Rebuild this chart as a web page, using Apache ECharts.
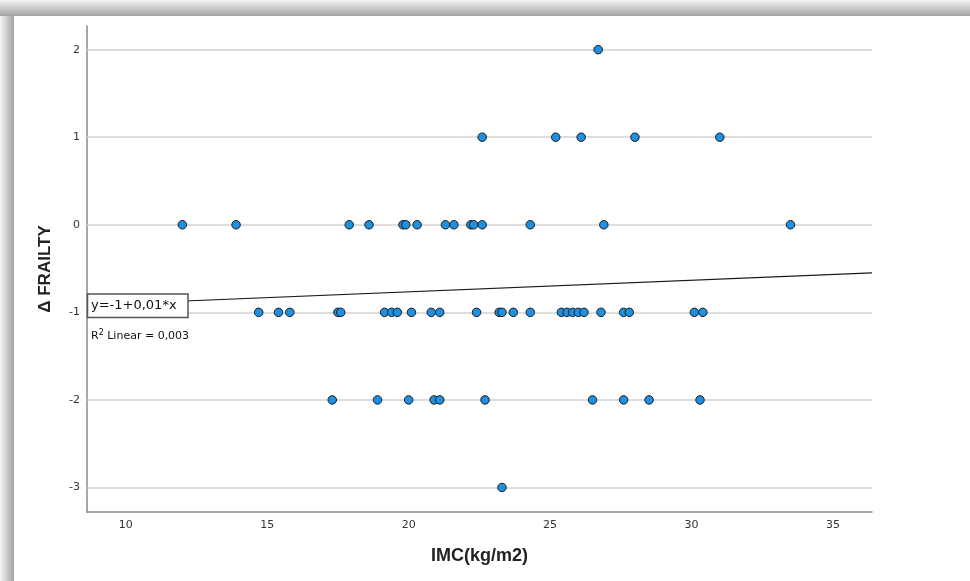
<!DOCTYPE html>
<html>
<head>
<meta charset="utf-8">
<script src="https://cdn.jsdelivr.net/npm/echarts@6/dist/echarts.min.js"></script>
<style>
html,body{margin:0;padding:0;background:#fff;}
#chart{width:970px;height:581px;}
</style>
</head>
<body>
<div id="chart"></div>
<script>
// ---- data ----
const xTickLabels = [10, 15, 20, 25, 30, 35];
const yTickLabels = [-3, -2, -1, 0, 1, 2];
const xRange = [8.63, 36.38];
const yRange = [-3.28, 2.27];

// IMC values for each Δ FRAILTY level
const imcAtPlus2 = [26.7];
const imcAtPlus1 = [22.6, 25.2, 26.1, 28.0, 31.0];
const imcAtZero = [12.0, 13.9, 17.9, 18.6, 19.8, 19.9, 20.3, 21.3, 21.6, 22.2, 22.3, 22.6, 24.3, 26.9, 33.5];
const imcAtMinus1 = [14.7, 15.4, 15.8, 17.5, 17.6, 19.15, 19.4, 19.6, 20.1, 20.8, 21.1, 22.4, 23.2, 23.3, 23.7, 24.3, 25.4, 25.6, 25.8, 26.0, 26.2, 26.8, 27.6, 27.8, 30.1, 30.4];
const imcAtMinus2 = [17.3, 18.9, 20.0, 20.9, 21.1, 22.7, 26.5, 27.6, 28.5, 30.3];
const imcAtMinus3 = [23.3];
const frailtyLevels = [2, 1, 0, -1, -2, -3];

// fit line as drawn
const fitIntercept = -1.03;
const fitSlope = 0.0132;
const fitLabel = 'y=-1+0,01*x';
const r2Label = '0,003';

const rows = [imcAtPlus2, imcAtPlus1, imcAtZero, imcAtMinus1, imcAtMinus2, imcAtMinus3];
const points = [];
rows.forEach((arr, i) => arr.forEach(x => points.push([x, frailtyLevels[i]])));

const fitLine = xRange.map(x => [x, fitIntercept + fitSlope * x]);

const chart = echarts.init(document.getElementById('chart'), null, {renderer: 'canvas'});
const tickFont = {fontFamily: 'DejaVu Sans', fontSize: 11, color: '#333'};

chart.setOption({
  animation: false,
  backgroundColor: '#ffffff',
  grid: {left: 87, top: 26, width: 785, height: 486, containLabel: false},
  xAxis: {
    type: 'value', min: xRange[0], max: xRange[1],
    name: 'IMC(kg/m2)', nameLocation: 'middle', nameGap: 35,
    nameTextStyle: {fontFamily: 'Liberation Sans', fontWeight: 'bold', fontSize: 18, color: '#222'},
    axisLine: {show: true, onZero: false, lineStyle: {color: '#8a8a8a', width: 1.5}},
    axisTick: {show: false, customValues: xTickLabels},
    axisLabel: Object.assign({customValues: xTickLabels, margin: 8}, tickFont),
    splitLine: {show: false}
  },
  yAxis: {
    type: 'value', min: yRange[0], max: yRange[1],
    name: 'Δ FRAILTY', nameLocation: 'middle', nameGap: 33, nameRotate: 90,
    nameTextStyle: {fontFamily: 'Liberation Sans', fontWeight: 'bold', fontSize: 17, color: '#222'},
    axisLine: {show: true, onZero: false, lineStyle: {color: '#8a8a8a', width: 1.5}},
    axisTick: {show: false, customValues: yTickLabels},
    axisLabel: Object.assign({customValues: yTickLabels, margin: 7,
      formatter: v => String(Math.round(v))}, tickFont),
    splitLine: {show: false}
  },
  series: [
    {
      type: 'line', data: [], z: 1, silent: true,
      markLine: {
        silent: true, symbol: 'none', animation: false, z: 1,
        label: {show: false},
        lineStyle: {type: 'solid', color: '#d2d2d2', width: 1.5},
        data: yTickLabels.map(v => ({yAxis: v}))
      }
    },
    {
      type: 'line', data: fitLine, z: 6, silent: true, symbol: 'none',
      lineStyle: {color: '#1a1a1a', width: 1.2}
    },
    {
      type: 'scatter', data: points, z: 10, symbol: 'circle', symbolSize: 8.5,
      itemStyle: {color: '#1f8fe0', borderColor: '#1b1b1b', borderWidth: 1, opacity: 1}
    }
  ],
  graphic: [
    {type: 'rect', z: 100, shape: {x: 0, y: 0, width: 970, height: 16},
     style: {fill: new echarts.graphic.LinearGradient(0, 0, 0, 1, [{offset: 0, color: '#f4f4f4'}, {offset: 1, color: '#a3a3a3'}])}},
    {type: 'rect', z: 100, shape: {x: 0, y: 16, width: 14, height: 565},
     style: {fill: new echarts.graphic.LinearGradient(0, 0, 1, 0, [{offset: 0, color: '#f4f4f4'}, {offset: 1, color: '#a3a3a3'}])}},
    {type: 'rect', z: 100, shape: {x: 87.5, y: 294, width: 100.5, height: 23.5},
     style: {fill: '#ffffff', stroke: '#555555', lineWidth: 1.5}},
    {type: 'text', z: 101, x: 91, y: 306,
     style: {text: fitLabel, fontFamily: 'DejaVu Sans', fontSize: 13, fill: '#111', verticalAlign: 'middle'}},
    {type: 'text', z: 101, x: 91, y: 336,
     style: {text: '{r|R}{s|2}{r| Linear = ' + r2Label + '}', verticalAlign: 'middle',
       rich: {r: {fontFamily: 'DejaVu Sans', fontSize: 11, fill: '#111', color: '#111'},
              s: {fontFamily: 'DejaVu Sans', fontSize: 8, color: '#111', verticalAlign: 'top', padding: [0, 0, 6, 0]}}}}
  ]
});
</script>
</body>
</html>
